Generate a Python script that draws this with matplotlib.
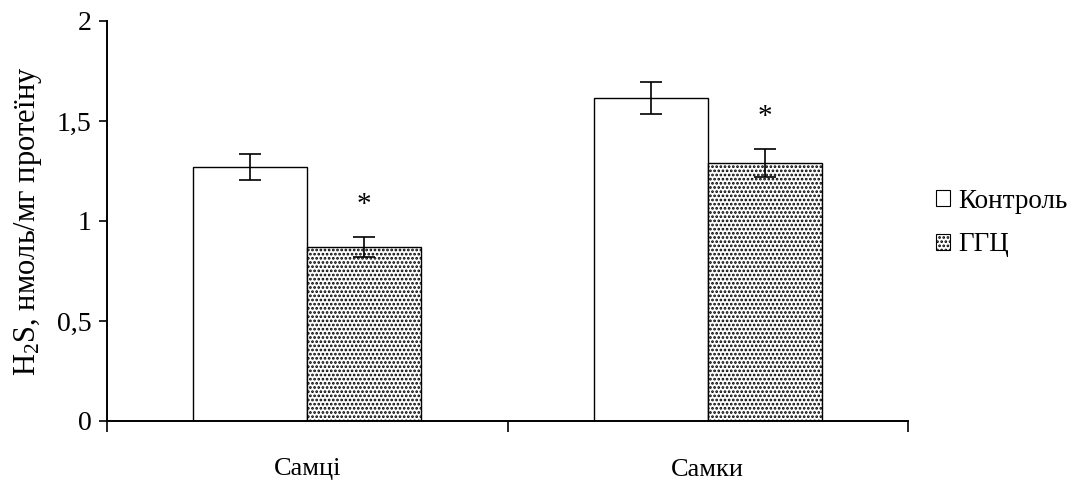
import numpy as np
import matplotlib.pyplot as plt
from matplotlib.patches import Patch

plt.rcParams['font.family'] = ['Liberation Serif', 'DejaVu Serif']
plt.rcParams['mathtext.fontset'] = 'custom'
plt.rcParams['mathtext.rm'] = 'Liberation Serif'
plt.rcParams['mathtext.default'] = 'regular'
plt.rcParams['hatch.linewidth'] = 1.3

groups = ['Самці', 'Самки']
series = ['Контроль', 'ГГЦ']
control = [1.27, 1.615]
control_err = [0.065, 0.08]
ggc = [0.87, 1.29]
ggc_err = [0.05, 0.07]
significant = [True, True]  # * над ГГЦ

fig = plt.figure(figsize=(10.7, 4.82), dpi=100)
ax = fig.add_axes([107/1070, 1 - 421/482, 801/1070, 400/482])

x = np.arange(len(groups)) + 0.5
w = 0.285
ax.bar(x - w/2, control, w, color='white', edgecolor='black', linewidth=1.0,
       yerr=control_err, capsize=8, error_kw=dict(elinewidth=1.2, capthick=1.2))
ax.bar(x + w/2, ggc, w, color='white', edgecolor='black', linewidth=1.0, hatch='....',
       yerr=ggc_err, capsize=8, error_kw=dict(elinewidth=1.2, capthick=1.2))

for xi, v, e, s in zip(x, ggc, ggc_err, significant):
    if s:
        ax.text(xi + w/2, v + e + 0.16, '*', ha='center', va='center', fontsize=21)

ax.set_xlim(0, 2)
ax.set_ylim(0, 2)
ax.set_yticks([0, 0.5, 1, 1.5, 2])
ax.set_yticklabels(['0', '0,5', '1', '1,5', '2'], fontsize=20)
ax.set_xticks([0, 1, 2])
ax.set_xticklabels([])
ax.set_xticks(x, minor=True)
ax.set_xticklabels(groups, minor=True, fontsize=19)
ax.tick_params(axis='x', which='major', length=8, width=1.2, direction='out')
ax.tick_params(axis='x', which='minor', length=0, pad=27)
ax.tick_params(axis='y', length=6, width=1.2, direction='out', pad=5)
for sp in ['top', 'right']:
    ax.spines[sp].set_visible(False)
for sp in ['left', 'bottom']:
    ax.spines[sp].set_linewidth(1.4)

ax.set_ylabel('H$_2$S, нмоль/мг протеїну', fontsize=22, labelpad=9)

handles = [Patch(facecolor='white', edgecolor='black', linewidth=0.8),
           Patch(facecolor='white', edgecolor='black', linewidth=0.8, hatch='....')]
fig.legend(handles, series, loc='center left', bbox_to_anchor=(922/1070, 1 - 223/482),
           frameon=False, fontsize=19.5, handlelength=0.55, handleheight=0.55,
           handletextpad=0.3, labelspacing=0.7, borderpad=0)

fig.savefig('out.png', dpi=100)
